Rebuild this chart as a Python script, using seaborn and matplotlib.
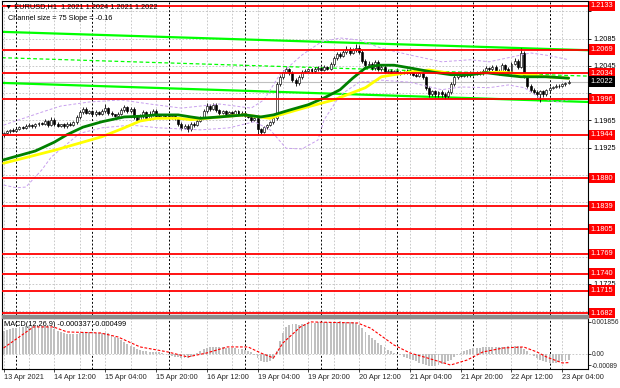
import numpy as np
import pandas as pd
import matplotlib
matplotlib.use("Agg")
import matplotlib.pyplot as plt
import matplotlib.transforms as mtrans
from matplotlib.patches import Rectangle
import seaborn as sns

# ---------------- data ----------------
first_open = 1.1943
closes = [
    1.1946, 1.1949, 1.1951, 1.1950, 1.1953, 1.1955, 1.1954, 1.1957, 1.1958, 1.1956,
    1.1959, 1.1961, 1.1960, 1.1964, 1.1958, 1.1966, 1.1960, 1.1957, 1.1959, 1.1956,
    1.1960, 1.1958, 1.1962, 1.1970, 1.1977, 1.1982, 1.1976, 1.1978, 1.1974, 1.1977,
    1.1975, 1.1978, 1.1983, 1.1976, 1.1974, 1.1972, 1.1975, 1.1980, 1.1984, 1.1978,
    1.1982, 1.1970, 1.1966, 1.1971, 1.1977, 1.1968, 1.1975, 1.1979, 1.1972, 1.1970,
    1.1973, 1.1971, 1.1969, 1.1972, 1.1968, 1.1960, 1.1954, 1.1957, 1.1952, 1.1960,
    1.1958, 1.1964, 1.1970, 1.1978, 1.1986, 1.1982, 1.1988, 1.1980, 1.1976, 1.1978,
    1.1974, 1.1977, 1.1975, 1.1978, 1.1973, 1.1976, 1.1972, 1.1970, 1.1966, 1.1968,
    1.1952, 1.1948, 1.1955, 1.1958, 1.1962, 1.1968, 1.2018, 1.2028, 1.2036, 1.2040,
    1.2034, 1.2025, 1.2020, 1.2028, 1.2036, 1.2038, 1.2040, 1.2037, 1.2040, 1.2042,
    1.2039, 1.2043, 1.2041, 1.2048, 1.2056, 1.2062, 1.2060, 1.2066, 1.2070, 1.2064,
    1.2068, 1.2072, 1.2065, 1.2052, 1.2046, 1.2048, 1.2042, 1.2050, 1.2040, 1.2044,
    1.2036, 1.2038, 1.2034, 1.2037, 1.2033, 1.2036, 1.2035, 1.2038, 1.2034, 1.2032,
    1.2030, 1.2034, 1.2028, 1.2012, 1.2004, 1.2008, 1.2003, 1.2006, 1.2004, 1.2001,
    1.2006, 1.2018, 1.2028, 1.2032, 1.2030, 1.2034, 1.2031, 1.2035, 1.2033, 1.2036,
    1.2034, 1.2038, 1.2042, 1.2040, 1.2044, 1.2038, 1.2035, 1.2046, 1.2040, 1.2036,
    1.2048, 1.2052, 1.2044, 1.2064, 1.2030, 1.2016, 1.2010, 1.2006, 1.2004, 1.2008,
    1.2003, 1.2009, 1.2013, 1.2014, 1.2016, 1.2015, 1.2018, 1.2020, 1.2022,
]
upper_wick_pips = [
    2, 2, 1, 3, 2, 2, 1, 2, 3, 2,
    2, 2, 1, 3, 2, 4, 2, 2, 1, 2,
    2, 3, 2, 3, 3, 2, 3, 2, 2, 3,
    2, 3, 6, 2, 2, 1, 2, 3, 3, 2,
    3, 2, 2, 3, 3, 2, 3, 2, 2, 2,
    2, 2, 1, 2, 2, 2, 3, 2, 2, 3,
    2, 3, 2, 3, 4, 3, 3, 2, 2, 2,
    2, 2, 2, 2, 2, 2, 2, 2, 2, 2,
    2, 2, 2, 2, 2, 2, 3, 4, 3, 3,
    2, 3, 2, 3, 3, 2, 2, 2, 3, 3,
    2, 3, 2, 3, 3, 4, 3, 3, 4, 3,
    3, 5, 3, 4, 3, 4, 3, 3, 3, 2,
    3, 2, 2, 2, 2, 2, 2, 2, 2, 2,
    2, 2, 2, 2, 3, 2, 2, 2, 3, 2,
    3, 4, 3, 3, 2, 2, 2, 2, 2, 2,
    2, 3, 3, 2, 2, 3, 3, 3, 2, 3,
    3, 4, 3, 8, 3, 2, 2, 2, 3, 2,
    2, 2, 2, 2, 2, 2, 2, 2, 2,
]
lower_wick_pips = [
    2, 1, 2, 2, 1, 2, 2, 1, 2, 2,
    2, 2, 2, 2, 3, 2, 3, 2, 2, 2,
    2, 2, 2, 2, 3, 3, 2, 2, 3, 2,
    2, 2, 2, 3, 2, 2, 2, 2, 3, 2,
    2, 3, 3, 2, 3, 3, 2, 3, 2, 2,
    2, 2, 2, 2, 2, 3, 3, 2, 4, 3,
    3, 2, 2, 2, 2, 3, 2, 3, 3, 2,
    2, 2, 2, 2, 2, 2, 2, 2, 3, 2,
    8, 3, 2, 2, 2, 2, 2, 2, 2, 2,
    2, 3, 4, 3, 2, 2, 2, 2, 2, 2,
    2, 2, 2, 2, 3, 2, 3, 2, 3, 3,
    2, 2, 3, 3, 3, 3, 3, 3, 3, 3,
    2, 2, 2, 2, 2, 2, 2, 2, 2, 2,
    2, 2, 2, 3, 5, 3, 4, 3, 4, 4,
    3, 3, 2, 2, 2, 2, 2, 2, 2, 2,
    2, 2, 2, 2, 2, 3, 3, 2, 3, 3,
    3, 2, 3, 2, 3, 4, 3, 3, 4, 12,
    3, 2, 2, 2, 2, 2, 1, 2, 1,
]

# moving averages (bar index, price)
ma_green_bars = [0, 10, 16, 20, 25, 31, 38, 43, 48, 55, 59, 62, 68, 76, 81, 85, 90, 96, 101,
                 106, 110, 114, 118, 123, 128, 135, 141, 147, 152, 157, 163, 171, 178]
ma_green_vals = [1.1907, 1.1920, 1.1933, 1.1944, 1.1955, 1.1963, 1.1970, 1.1971, 1.1973, 1.1973,
                 1.1970, 1.1968, 1.1970, 1.1973, 1.1970, 1.1973, 1.1980, 1.1988, 1.1998, 1.2010,
                 1.2027, 1.2042, 1.2046, 1.2046, 1.2042, 1.2036, 1.2032, 1.2032, 1.2035, 1.2032,
                 1.2029, 1.2029, 1.2027]
ma_yellow_bars = [0, 16, 25, 31, 38, 40, 43, 48, 55, 59, 62, 68, 76, 84, 87, 96, 104, 114, 119,
                  128, 134, 138, 144, 152, 157, 163, 166, 171, 178]
ma_yellow_vals = [1.1902, 1.1921, 1.1933, 1.1941, 1.1954, 1.1958, 1.1964, 1.1968, 1.1968, 1.1966,
                  1.1967, 1.1970, 1.1973, 1.1968, 1.1973, 1.1985, 1.1995, 1.2013, 1.2029, 1.2036,
                  1.2039, 1.2036, 1.2032, 1.2035, 1.2036, 1.2033, 1.2032, 1.2029, 1.2027]

band_up_bars = [0, 5, 12, 18, 27, 37, 46, 56, 68, 78, 82, 87, 94, 100, 106, 112, 119, 128, 138,
                147, 153, 160, 166, 172, 178]
band_up_vals = [1.1958, 1.1966, 1.1977, 1.1986, 1.1992, 1.1995, 1.1989, 1.1983, 1.1989, 1.1983,
                1.1995, 1.2032, 1.2061, 1.2080, 1.2086, 1.2083, 1.2071, 1.2061, 1.2051, 1.2054,
                1.2051, 1.2058, 1.2064, 1.2060, 1.2054]
band_lo_bars = [0, 4, 7, 12, 15, 24, 31, 40, 49, 62, 71, 79, 84, 89, 94, 99, 101, 106, 112, 119,
                128, 138, 144, 153, 159, 164, 169, 174, 178]
band_lo_vals = [1.1870, 1.1866, 1.1867, 1.1892, 1.1911, 1.1946, 1.1954, 1.1958, 1.1954, 1.1951,
                1.1954, 1.1963, 1.1951, 1.1924, 1.1923, 1.1936, 1.1966, 1.2002, 1.2021, 1.2024,
                1.2021, 1.2010, 1.2014, 1.2013, 1.2017, 1.2013, 1.1998, 1.1992, 1.1995]

channel_bars = [-0.5, 184.1]
channel_top = [1.2095, 1.2068]
channel_mid = [1.2057, 1.2030]
channel_bot = [1.2020, 1.1992]

levels = [1.2133, 1.2069, 1.2034, 1.1996, 1.1944, 1.1880, 1.1839, 1.1805,
          1.1769, 1.1740, 1.1715, 1.1682]
price_ticks = [1.2125, 1.2085, 1.2045, 1.2005, 1.1965, 1.1925, 1.1885,
               1.1845, 1.1805, 1.1765, 1.1725, 1.1685]
last_price = 1.2022

macd_hist_e4 = [
    13.5, 14.0, 14.5, 15.0, 15.2, 15.5, 15.8, 16.0, 16.0, 16.2,
    16.2, 16.0, 16.2, 16.0, 15.8, 15.2, 14.5, 13.5, 12.8, 12.2,
    11.8, 11.5, 11.5, 11.8, 12.2, 12.5, 12.6, 12.5, 12.4, 12.2,
    12.0, 12.0, 12.2, 12.4, 11.0, 10.0, 9.0, 8.0, 7.0, 5.8,
    4.8, 3.8, 3.0, 2.5, 2.0, 1.6, 1.2, 1.0, 1.2, 1.0,
    0.6, 0.2, -0.4, -1.0, -1.5, -2.0, -2.4, -2.5, -2.2, -1.8,
    -0.8, 0.5, 1.8, 2.8, 3.6, 4.0, 4.2, 4.0, 4.0, 3.8,
    3.6, 3.6, 3.4, 3.2, 3.0, 2.8, 2.5, 2.0, 1.0, -0.5,
    -2.5, -3.8, -4.6, -4.8, -4.2, -3.0, 2.0, 7.5, 12.0, 15.5,
    17.0, 17.5, 17.2, 17.0, 17.2, 17.5, 17.8, 18.0, 18.2, 18.4,
    18.4, 18.5, 18.3, 18.4, 18.6, 18.8, 19.0, 18.8, 18.6, 18.6,
    18.6, 18.2, 17.0, 15.0, 13.0, 11.0, 9.5, 8.0, 6.5, 5.0,
    3.8, 2.5, 1.5, 0.8, 0.0, -0.8, -1.6, -2.4, -3.0, -3.6,
    -4.2, -5.0, -5.6, -6.2, -6.8, -7.0, -6.8, -6.4, -5.8, -5.0,
    -4.2, -3.2, -2.0, -0.8, 0.5, 1.5, 2.2, 2.8, 3.2, 3.5,
    3.6, 3.8, 4.0, 4.0, 4.2, 4.0, 3.8, 4.0, 4.2, 4.4,
    4.6, 4.8, 4.5, 4.2, 3.0, 1.5, 0.0, -1.2, -2.4, -3.4,
    -4.2, -4.8, -5.2, -5.3, -5.0, -4.6, -4.2, -3.8, -3.37,
]
signal_bars = [0, 9.4, 15.7, 20, 30.5, 36, 43, 51.7, 58, 64, 70.5, 77, 81, 85, 88, 93.5, 96.7,
               111.5, 115.6, 123, 128, 133.5, 140.8, 146, 151, 157.5, 163.8, 168, 171, 176, 178]
signal_e4 = [3.5, 15.7, 15.7, 12.8, 12.2, 9.9, 4.1, 1.2, -1.7, 0.6, 4.1, 4.1, 0.6, -2.3, 6.4,
             15.7, 18.6, 18.0, 15.0, 5.2, 0.6, -2.3, -6.4, -3.5, 1.2, 3.5, 4.1, 1.2, -1.7,
             -5.2, -4.99]
macd_ticks = [0.001856, 0.0, -0.00064]
macd_tick_labels = ["0.001856", "0.00", "-0.00089"]

time_labels = ["13 Apr 2021", "14 Apr 12:00", "15 Apr 04:00", "15 Apr 20:00",
               "16 Apr 12:00", "19 Apr 04:00", "19 Apr 20:00", "20 Apr 12:00",
               "21 Apr 04:00", "21 Apr 20:00", "22 Apr 12:00", "23 Apr 04:00"]
time_label_bars = [0, 16, 32, 48, 64, 80, 96, 112, 128, 144, 160, 176]
day_start_bars = [4, 28, 52, 76, 100, 124, 148, 172]

# ---------------- style ----------------
sns.set_style("white")
plt.rcParams['font.family'] = ['Liberation Sans', 'DejaVu Sans']
FS = 5.3

W, H = 620, 388
fig = plt.figure(figsize=(W / 100, H / 100), dpi=100)
fig.patch.set_facecolor('white')

def fx(px):
    return px / W

def fy(py):
    return (H - py) / H

ax = fig.add_axes([fx(2), fy(315), fx(586), 314 / H])
axm = fig.add_axes([fx(2), fy(369), fx(586), 51 / H])

XMIN, XMAX = -0.5, 184.1
GRID = '#C0C0C0'

df = pd.DataFrame({"close": closes})
df["open"] = [first_open] + closes[:-1]
df["bar"] = np.arange(len(df))
df["high"] = df[["open", "close"]].max(axis=1) + np.array(upper_wick_pips) * 1e-4
df["low"] = df[["open", "close"]].min(axis=1) - np.array(lower_wick_pips) * 1e-4

for a in (ax, axm):
    a.set_xlim(XMIN, XMAX)
    for b in range(0, 185, 8):
        if b not in day_start_bars:
            a.axvline(b, color=GRID, lw=0.6, ls=(0, (2, 2)), zorder=0.5)
    for b in day_start_bars:
        a.axvline(b, color='black', lw=0.7, ls=(0, (2, 2)), zorder=0.6)
    for s in a.spines.values():
        s.set_color('black')
        s.set_linewidth(0.8)

# ---- main pane ----
ax.set_ylim(1.16791, 1.21403)
for p in price_ticks:
    ax.axhline(p, color=GRID, lw=0.6, ls=(0, (2, 2)), zorder=0.5)

# regression channel
sns.lineplot(x=channel_bars, y=channel_top, ax=ax, color='#00FF00', lw=1.6, zorder=2)
sns.lineplot(x=channel_bars, y=channel_mid, ax=ax, color='#00FF00', lw=0.9, zorder=2,
             linestyle=(0, (3, 2)))
sns.lineplot(x=channel_bars, y=channel_bot, ax=ax, color='#00FF00', lw=1.6, zorder=2)

ax.axhline(last_price, color='#C0C0C0', lw=0.8, zorder=1)

# candles
bull = df["close"] >= df["open"]
ax.vlines(df["bar"], df["low"], df["high"], color='black', lw=0.6, zorder=3)
body = (df["close"] - df["open"]).abs().clip(lower=0.00004)
ax.bar(df["bar"][bull], body[bull], bottom=df[["open", "close"]].min(axis=1)[bull],
       width=0.62, color='white', edgecolor='black', lw=0.45, zorder=3.5)
ax.bar(df["bar"][~bull], body[~bull], bottom=df[["open", "close"]].min(axis=1)[~bull],
       width=0.62, color='black', edgecolor='black', lw=0.45, zorder=3.5)

# bands and MAs
sns.lineplot(x=band_up_bars, y=band_up_vals, ax=ax, color='#C8A0EE', lw=0.7,
             linestyle=(0, (3, 2)), zorder=4)
sns.lineplot(x=band_lo_bars, y=band_lo_vals, ax=ax, color='#C8A0EE', lw=0.7,
             linestyle=(0, (3, 2)), zorder=4)
sns.lineplot(x=ma_yellow_bars, y=ma_yellow_vals, ax=ax, color='#FFFF00', lw=2.0, zorder=4.2)
sns.lineplot(x=ma_green_bars, y=ma_green_vals, ax=ax, color='#008000', lw=2.0, zorder=4.3)

for lv in levels:
    ax.axhline(lv, color='#FF0000', lw=1.3, zorder=5)

# price scale: labels that sit under a red/black level box are left blank (as in the source)
covered = levels + [last_price]
tick_text = [("" if min(abs(p - c) for c in covered) < 0.00095 else f"{p:.4f}")
             for p in price_ticks]
ax.yaxis.tick_right()
ax.set_yticks(price_ticks)
ax.set_yticklabels(tick_text)
ax.tick_params(axis='y', right=True, length=2.5, width=0.6, pad=1.5, labelsize=FS,
               colors='black')
ax.set_xticks([])
ax.set_xlabel('')
ax.set_ylabel('')

blend = mtrans.blended_transform_factory(ax.transAxes, ax.transData)
for lv in levels:
    ax.text(1.0045, lv, f"{lv:.4f}", transform=blend, color='white', fontsize=FS,
            va='center', ha='left', zorder=10, clip_on=False,
            bbox=dict(boxstyle='square,pad=0.22', fc='#FF0000', ec='none'))
ax.text(1.0045, last_price, f"{last_price:.4f}", transform=blend, color='white', fontsize=FS,
        va='center', ha='left', zorder=10, clip_on=False,
        bbox=dict(boxstyle='square,pad=0.22', fc='black', ec='none'))

ax.text(0.005, 0.983, "\u25bc EURUSD,H1  1.2021 1.2024 1.2021 1.2022",
        transform=ax.transAxes, fontsize=FS, va='center', ha='left', color='black', zorder=11)
ax.text(0.011, 0.945, "Channel size = 75 Slope = -0.16", transform=ax.transAxes,
        fontsize=FS, va='center', ha='left', color='black', zorder=11)

# separator between panes
fig.patches.append(Rectangle((fx(2), fy(318)), fx(586), 3 / H, transform=fig.transFigure,
                             color='#8C8C8C', zorder=0))

# ---- MACD pane ----
hist = np.array(macd_hist_e4) * 1e-4
axm.set_ylim(-0.00087, 0.002088)
axm.axhline(0, color=GRID, lw=0.6, ls=(0, (2, 2)), zorder=0.5)
axm.bar(np.arange(len(hist)), hist, width=0.6, color='#C0C0C0', lw=0, zorder=2)
sns.lineplot(x=signal_bars, y=np.array(signal_e4) * 1e-4, ax=axm, color='#FF0000', lw=0.8,
             linestyle=(0, (2.5, 1.5)), zorder=3)
axm.yaxis.tick_right()
axm.set_yticks(macd_ticks)
axm.set_yticklabels(macd_tick_labels)
axm.tick_params(axis='y', right=True, length=2.0, width=0.6, pad=0.8, labelsize=4.8)
axm.set_xticks(time_label_bars)
axm.set_xticklabels(time_labels, ha='left')
axm.tick_params(axis='x', bottom=True, length=2.5, width=0.6, pad=1.2, labelsize=FS)
axm.set_xlabel('')
axm.set_ylabel('')
axm.text(0.004, 0.88, "MACD(12,26,9) -0.000337 -0.000499", transform=axm.transAxes,
         fontsize=FS, va='center', ha='left', color='black', zorder=11)

fig.savefig("out.png", dpi=100, facecolor='white')
